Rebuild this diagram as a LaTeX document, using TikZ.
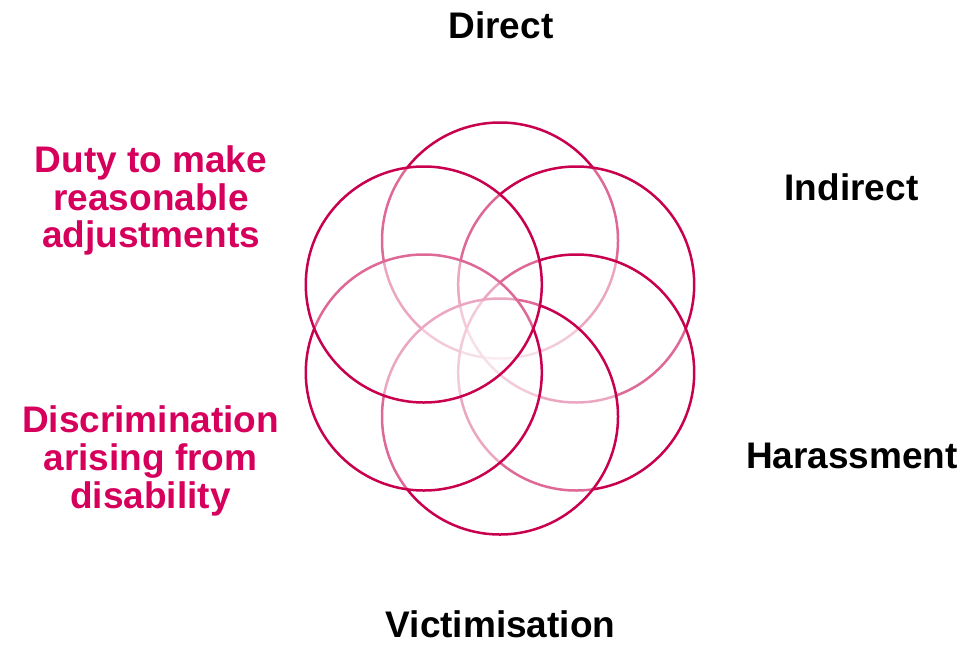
\documentclass[tikz,border=0pt]{standalone}
\usepackage{fontspec}
\setmainfont{Liberation Sans}
\usetikzlibrary{calc}
\definecolor{ring}{HTML}{C8004E}
\definecolor{pinktext}{HTML}{D6005C}
\begin{document}
\begin{tikzpicture}[x=1pt,y=-1pt,
  petal/.style={draw=ring, line width=2.5pt, fill=white, fill opacity=0.41},
  lbl/.style={font=\fontsize{37}{38}\selectfont\bfseries, inner sep=0pt, anchor=base, text=black},
  plbl/.style={lbl, text=pinktext}]
\useasboundingbox (0,0) rectangle (973,645);
\coordinate (c) at (500,328.5);
\foreach \a/\n in {90/p1,30/p2,-30/p3,-90/p4,-150/p5,150/p6}{
  \path[petal] ($(c)+(\a:88 and -88)$) circle[radius=118];
}
\node[lbl] (direct) at (501,38) {Direct};
\node[lbl] (indirect) at (851.5,200) {Indirect};
\node[lbl] (harass) at (852,468) {Harassment};
\node[lbl] (victim) at (500.5,637) {Victimisation};
\node[plbl] (d1) at (151,172) {Duty to make};
\node[plbl] (d2) at (151,210) {reasonable};
\node[plbl] (d3) at (151,247) {adjustments};
\node[plbl] (e1) at (150.5,432) {Discrimination};
\node[plbl] (e2) at (150.5,470) {arising from};
\node[plbl] (e3) at (150.5,508) {disability};
\end{tikzpicture}
\end{document}
